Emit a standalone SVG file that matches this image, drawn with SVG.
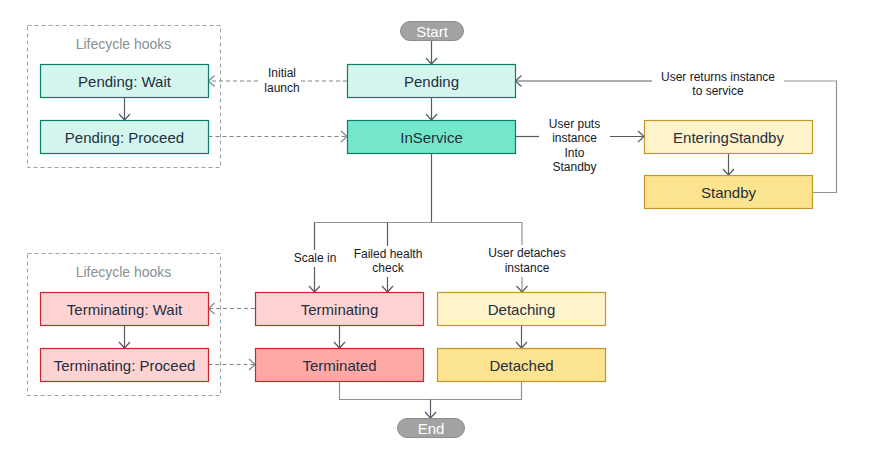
<svg xmlns="http://www.w3.org/2000/svg" width="890" height="469" viewBox="0 0 890 469">
<defs>
<marker id="arr" markerUnits="userSpaceOnUse" markerWidth="14" markerHeight="14" viewBox="-8 -7 10 14" refX="0" refY="0" orient="auto">
<path d="M-6,-5.5 L0,0 L-6,5.5" fill="none" stroke="#545b64" stroke-width="1.2"/>
</marker>
<marker id="arrd" markerUnits="userSpaceOnUse" markerWidth="14" markerHeight="14" viewBox="-8 -7 10 14" refX="0" refY="0" orient="auto">
<path d="M-6,-5.5 L0,0 L-6,5.5" fill="none" stroke="#7d8791" stroke-width="1.2"/>
</marker>
</defs>
<style>
text{font-family:"Liberation Sans",Arial,sans-serif}
.nt{font-size:15px;fill:#232f3e;text-anchor:middle}
.lb{font-size:12px;fill:#16191f;text-anchor:middle}
.hk{font-size:14px;fill:#879196;text-anchor:middle}
.pill{fill:#a2a2a2;stroke:#8c8c8c;stroke-width:1}
.pt{font-size:15px;fill:#ffffff;text-anchor:middle}
.grp{fill:none;stroke:#9ba1a6;stroke-width:1;stroke-dasharray:4,3}
.green{fill:#d4f6ee;stroke:#0b7e69;stroke-width:1.2}
.green2{fill:#74e7cb;stroke:#0b7e69;stroke-width:1.2}
.red{fill:#ffd3d3;stroke:#c8272b;stroke-width:1.2}
.red2{fill:#ffa9a7;stroke:#c8272b;stroke-width:1.2}
.yel{fill:#fff3cc;stroke:#c2982c;stroke-width:1.2}
.yel2{fill:#fce38f;stroke:#c2982c;stroke-width:1.2}
.c{fill:none;stroke:#545b64;stroke-width:1.2}
.cl{fill:none;stroke:#8d949a;stroke-width:1.2}
.d{fill:none;stroke:#7d8791;stroke-width:1.2;stroke-dasharray:4,3}
</style>
<rect width="890" height="469" fill="#ffffff"/>

<g id="hooks-pending">
<rect class="grp" x="27.5" y="25.5" width="193" height="142"/>
<text class="hk" x="123.5" y="49">Lifecycle hooks</text>
</g>
<g id="hooks-terminating">
<rect class="grp" x="27.5" y="253.5" width="193" height="142"/>
<text class="hk" x="123.5" y="276.5">Lifecycle hooks</text>
</g>

<g id="connectors">
<path class="c" d="M431.5,40.5 V64" marker-end="url(#arr)"/>
<path class="c" d="M431.5,97 V120" marker-end="url(#arr)"/>
<path class="d" d="M347,81 H300"/>
<path class="d" d="M258,81 H208.5" marker-end="url(#arrd)"/>
<path class="c" d="M124.5,97 V120" marker-end="url(#arr)"/>
<path class="d" d="M208.5,136.5 H347" marker-end="url(#arrd)"/>
<path class="c" d="M515.5,136.5 H539"/>
<path class="c" d="M610,136.5 H644" marker-end="url(#arr)"/>
<path class="c" d="M728.5,153 V175" marker-end="url(#arr)"/>
<path class="cl" d="M812.5,192.5 H836.5 V81 H784"/>
<path class="c" d="M652,81 H515.5" marker-end="url(#arr)"/>
<path class="c" d="M431.5,153 V222.5"/>
<path class="cl" d="M314.5,222.5 H522"/>
<path class="c" d="M314.5,222.5 V250"/>
<path class="c" d="M314.5,267 V292" marker-end="url(#arr)"/>
<path class="c" d="M387.5,222.5 V246"/>
<path class="c" d="M387.5,277 V292" marker-end="url(#arr)"/>
<path class="cl" d="M522,222.5 V245"/>
<path class="cl" d="M522,277 V292" marker-end="url(#arr)"/>
<path class="c" d="M339.5,325.5 V348" marker-end="url(#arr)"/>
<path class="c" d="M521.5,326 V348" marker-end="url(#arr)"/>
<path class="d" d="M255,308.5 H208.5" marker-end="url(#arrd)"/>
<path class="d" d="M208.5,364.5 H255" marker-end="url(#arrd)"/>
<path class="c" d="M124.5,325.5 V348" marker-end="url(#arr)"/>
<path class="cl" d="M339.5,381.5 V399.5 H521.5 V381.5"/>
<path class="c" d="M430.5,399.5 V418" marker-end="url(#arr)"/>
</g>

<g id="labels">
<text class="lb" x="282" y="77">Initial</text>
<text class="lb" x="282" y="92">launch</text>
<text class="lb" x="718" y="80.5">User returns instance</text>
<text class="lb" x="718" y="95">to service</text>
<text class="lb" x="574.5" y="127.5">User puts</text>
<text class="lb" x="574.5" y="142">instance</text>
<text class="lb" x="574.5" y="156.5">Into</text>
<text class="lb" x="574.5" y="170.5">Standby</text>
<text class="lb" x="315" y="262">Scale in</text>
<text class="lb" x="388" y="257.5">Failed health</text>
<text class="lb" x="388" y="272">check</text>
<text class="lb" x="527" y="257">User detaches</text>
<text class="lb" x="527" y="272">instance</text>
</g>

<g id="start"><rect class="pill" x="400.5" y="21.5" width="63" height="19" rx="9.5"/><text class="pt" x="432" y="36.5">Start</text></g>
<g id="end"><rect class="pill" x="397.5" y="418.5" width="67" height="19" rx="9.5"/><text class="pt" x="431" y="433.5">End</text></g>

<g id="pending"><rect class="green" x="347.5" y="64.5" width="168" height="33"/><text class="nt" x="431.5" y="86.5">Pending</text></g>
<g id="inservice"><rect class="green2" x="347.5" y="120.5" width="168" height="33"/><text class="nt" x="431.5" y="142.5">InService</text></g>
<g id="pending-wait"><rect class="green" x="40.5" y="64.5" width="168" height="33"/><text class="nt" x="124.5" y="86.5">Pending: Wait</text></g>
<g id="pending-proceed"><rect class="green" x="40.5" y="120.5" width="168" height="33"/><text class="nt" x="124.5" y="142.5">Pending: Proceed</text></g>
<g id="entering-standby"><rect class="yel" x="644.5" y="120.5" width="168" height="33"/><text class="nt" x="728.5" y="142.5">EnteringStandby</text></g>
<g id="standby"><rect class="yel2" x="644.5" y="175.5" width="168" height="33"/><text class="nt" x="728.5" y="197.5">Standby</text></g>
<g id="terminating"><rect class="red" x="255.5" y="292.5" width="168" height="33"/><text class="nt" x="339.5" y="314.5">Terminating</text></g>
<g id="terminated"><rect class="red2" x="255.5" y="348.5" width="168" height="33"/><text class="nt" x="339.5" y="370.5">Terminated</text></g>
<g id="terminating-wait"><rect class="red" x="40.5" y="292.5" width="168" height="33"/><text class="nt" x="124.5" y="314.5">Terminating: Wait</text></g>
<g id="terminating-proceed"><rect class="red" x="40.5" y="348.5" width="168" height="33"/><text class="nt" x="124.5" y="370.5">Terminating: Proceed</text></g>
<g id="detaching"><rect class="yel" x="437.5" y="292.5" width="168" height="33"/><text class="nt" x="521.5" y="314.5">Detaching</text></g>
<g id="detached"><rect class="yel2" x="437.5" y="348.5" width="168" height="33"/><text class="nt" x="521.5" y="370.5">Detached</text></g>
</svg>
